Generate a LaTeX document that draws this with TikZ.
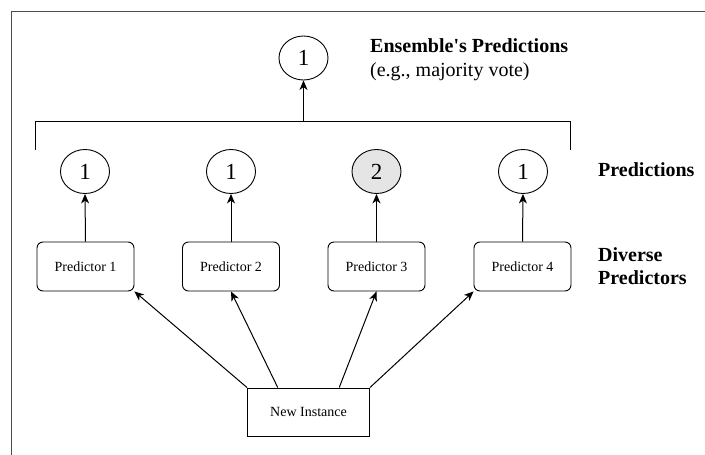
\documentclass[tikz,border=0pt]{standalone}
\usepackage{fontspec}
\setmainfont{Liberation Serif}
\usetikzlibrary{arrows.meta,calc,shapes.geometric}
\begin{document}
\begin{tikzpicture}[x=1pt,y=-1pt,
  conn/.style={line width=1pt,-{Stealth[length=9.5pt,width=8pt,inset=2.8pt]}},
  vote/.style={ellipse,draw,line width=0.9pt,minimum width=49pt,minimum height=44pt,
    inner sep=0pt,font=\fontsize{23}{23}\selectfont},
  predbox/.style={draw,line width=0.9pt,rounded corners=6pt,minimum width=97pt,
    minimum height=49pt,inner sep=0pt,font=\fontsize{14}{16}\selectfont},
  inbox/.style={draw,line width=0.9pt,minimum width=122pt,minimum height=48pt,
    inner sep=0pt,font=\fontsize{14}{16}\selectfont},
  label/.style={anchor=west,align=left,inner sep=0pt,
    font=\fontsize{20}{24}\selectfont}]
\useasboundingbox (0,0) rectangle (705,455);
% frame
\draw[line width=1.2pt,black!70] (11.5,455) -- (11.5,11.5) -- (705,11.5);

% ensemble output
\node[vote] (ens) at (303.5,58) {1};
\node[label] (enslabel) at (370,60) {\textbf{Ensemble\textquotesingle s Predictions}\\(e.g., majority vote)};

% bracket collecting the individual predictions
\coordinate (bl) at (35,150);
\coordinate (br) at (570,150);
\coordinate (bmid) at (303.5,121);
\draw[line width=1pt] (bl) -- (35,121) -- (570,121) -- (br);
\draw[conn] (bmid) -- (ens.south);

% individual predictions
\node[vote] (p1) at (85,171.5) {1};
\node[vote] (p2) at (231,171.5) {1};
\node[vote,fill=black!10] (p3) at (376.5,171.5) {2};
\node[vote] (p4) at (523,171.5) {1};
\node[label] (predlabel) at (598,170) {\textbf{Predictions}};

% predictors
\node[predbox] (m1) at (85.5,266.5) {Predictor 1};
\node[predbox] (m2) at (231,266.5) {Predictor 2};
\node[predbox] (m3) at (376.5,266.5) {Predictor 3};
\node[predbox] (m4) at (522.5,266.5) {Predictor 4};
\node[label,font=\fontsize{20}{23}\selectfont] (divlabel) at (598,266.5) {\textbf{Diverse}\\\textbf{Predictors}};

\foreach \i in {1,...,4}{\draw[conn] (m\i.north) -- (p\i.south);}

% input instance
\node[inbox] (inst) at (308.5,412) {New Instance};
\draw[conn] (inst.north west) -- (m1.south east);
\draw[conn] ($(inst.north west)!0.25!(inst.north east)$) -- (m2.south);
\draw[conn] ($(inst.north west)!0.75!(inst.north east)$) -- (m3.south);
\draw[conn] (inst.north east) -- (m4.south west);
\end{tikzpicture}
\end{document}
